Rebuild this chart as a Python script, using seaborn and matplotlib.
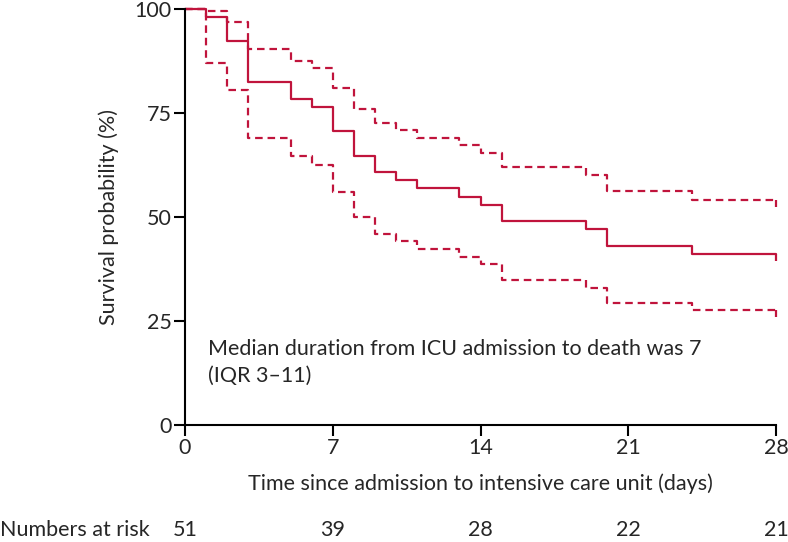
import numpy as np
import pandas as pd
import matplotlib
matplotlib.use("Agg")
import matplotlib.pyplot as plt
import matplotlib.transforms as mtransforms
import seaborn as sns

# Kaplan-Meier estimate (day of each step, survival %)
days = [0, 1, 2, 3, 5, 6, 7, 8, 9, 10, 11, 13, 14, 15, 19, 20, 24, 28]
survival = [100, 98.0, 92.2, 82.4, 78.4, 76.5, 70.6, 64.7, 60.8, 58.8, 56.9,
            54.9, 52.9, 49.0, 47.1, 43.1, 41.2, 41.2]
upper_ci = [100, 99.5, 96.9, 90.3, 87.4, 85.8, 81.1, 76.0, 72.6, 71.0, 69.1,
            67.4, 65.5, 61.9, 60.0, 56.2, 54.2, 54.2]
lower_ci = [100, 86.9, 80.5, 68.9, 64.6, 62.4, 55.9, 50.1, 45.9, 44.2, 42.2,
            40.3, 38.6, 34.8, 33.0, 29.4, 27.7, 27.7]

# numbers at risk table
risk_days = [0, 7, 14, 21, 28]
at_risk = [51, 39, 28, 22, 21]

x_ticks = [0, 7, 14, 21, 28]
y_ticks = [0, 25, 50, 75, 100]

red = "#c0143c"
fs = 15.5

sns.set_style("ticks")
plt.rcParams['font.family'] = ['Lato', 'DejaVu Sans']
plt.rcParams['font.size'] = fs

km = pd.DataFrame({'day': days, 'surv': survival, 'upper': upper_ci, 'lower': lower_ci})

fig = plt.figure(figsize=(7.88, 5.42), dpi=100)
ax = fig.add_axes([0.2348, 0.2159, 0.75, 0.7675])

sns.lineplot(data=km, x='day', y='surv', ax=ax, color=red, lw=1.6,
             drawstyle='steps-post', estimator=None, clip_on=False)
for col in ['upper', 'lower']:
    sns.lineplot(data=km, x='day', y=col, ax=ax, color=red, lw=1.6,
                 drawstyle='steps-post', estimator=None, clip_on=False,
                 dashes=False, linestyle=(0, (3.4, 2.2)))

# censor ticks at the end of follow-up
for col in ['surv', 'upper', 'lower']:
    last = km[col].iloc[-1]
    ax.vlines(km['day'].iloc[-1], last - 1.8, last, color=red, lw=1.6, clip_on=False)

ax.set_xlim(0, 28)
ax.set_ylim(0, 100)
ax.set_xticks(x_ticks)
ax.set_yticks(y_ticks)
ax.tick_params(direction='out', length=8, width=1.5, pad=1.5, labelsize=fs, color='black')
for side in ['left', 'bottom']:
    ax.spines[side].set_linewidth(1.5)
    ax.spines[side].set_color('black')
sns.despine(ax=ax)

ax.set_xlabel('Time since admission to intensive care unit (days)', fontsize=fs, labelpad=11)
ax.set_ylabel('Survival probability (%)', fontsize=fs, labelpad=11)

ax.text(1.1, 15, 'Median duration from ICU admission to death was 7\n(IQR 3\u201311)',
        fontsize=fs, ha='left', va='center', linespacing=1.4)

# numbers at risk row
trans = mtransforms.blended_transform_factory(ax.transData, fig.transFigure)
for d, n in zip(risk_days, at_risk):
    ax.text(d, 0.023, str(n), transform=trans, ha='center', va='center', fontsize=fs)
fig.text(0.0, 0.023, 'Numbers at risk', ha='left', va='center', fontsize=fs)

fig.savefig('out.png', dpi=100)
